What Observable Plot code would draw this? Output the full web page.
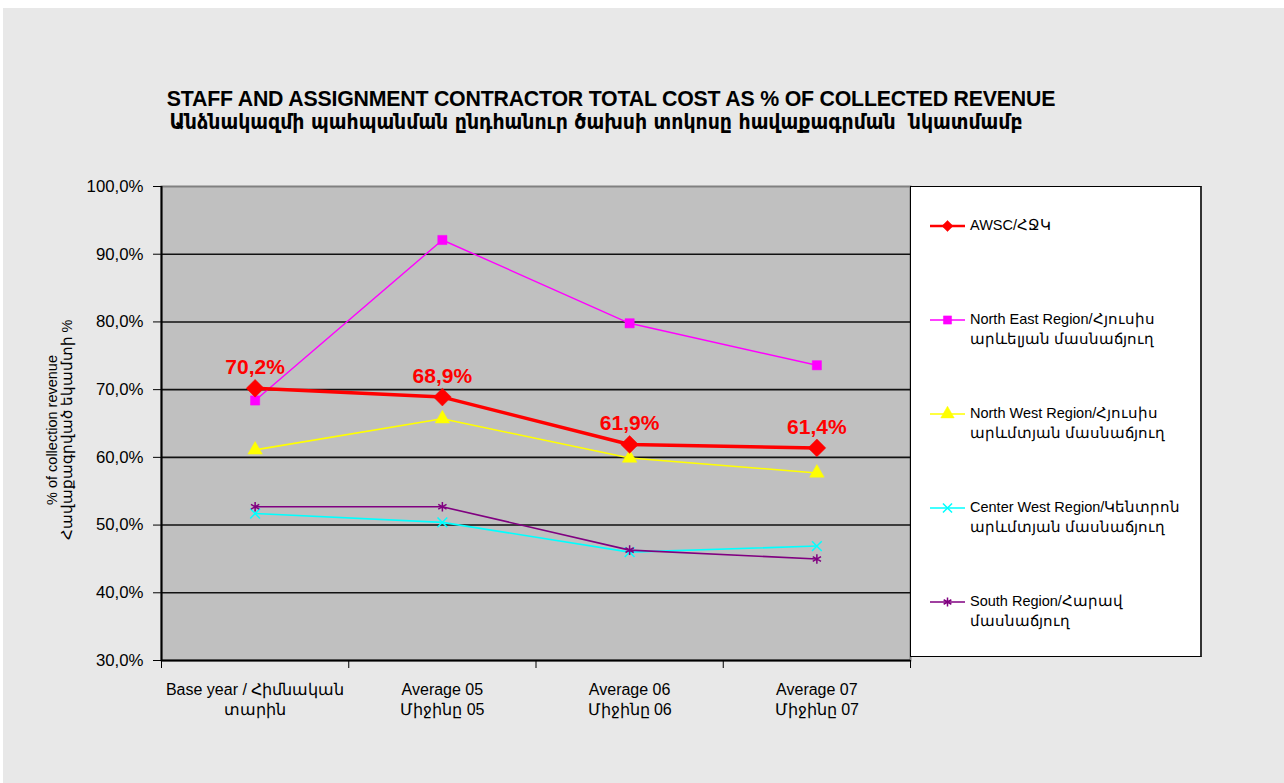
<!DOCTYPE html>
<html><head><meta charset="utf-8">
<script src="https://cdn.jsdelivr.net/npm/d3@7"></script>
<script src="https://cdn.jsdelivr.net/npm/@observablehq/plot@0.6"></script>
<style>
body{margin:0;background:#fff;font-family:"Liberation Sans",Arial,sans-serif;width:1284px;height:783px;overflow:hidden;position:relative;}
#bg{position:absolute;left:3px;top:8px;width:1281px;height:775px;background-color:#e8e8e8;}
#chart{position:absolute;left:0;top:0;}
.title{position:absolute;left:0;width:1222px;text-align:center;font-weight:bold;color:#000;white-space:pre;}
#t1{top:87px;font-size:21.3px;letter-spacing:-0.2px;}
#t2{top:110px;left:-15px;font-size:21px;font-family:"DejaVu Sans Condensed","DejaVu Sans",sans-serif;}
#ylab{position:absolute;left:59px;top:430px;transform:translate(-50%,-50%) rotate(-90deg);text-align:center;font-size:14.5px;line-height:14.5px;white-space:nowrap;}
#legend{position:absolute;left:910px;top:186px;width:289px;height:469px;background:#fff;border:1px solid #000;border-right:2px solid #333;}
.li{position:absolute;left:18px;font-size:14.5px;line-height:19.5px;}
.li svg{position:absolute;left:0;top:1px;}
.li span{position:absolute;left:41px;top:0;white-space:nowrap;}
</style></head>
<body>
<div id="bg"></div>
<div id="chart"></div>
<div class="title" id="t1">STAFF AND ASSIGNMENT CONTRACTOR TOTAL COST AS % OF COLLECTED REVENUE</div>
<div class="title" id="t2">Անձնակազմի պահպանման ընդհանուր ծախսի տոկոսը հավաքագրման  նկատմամբ</div>
<div id="ylab">% of collection revenue<br>Հավաքագրված եկամտի %</div>
<div id="legend"></div>
<script>
const categories = ["Base year / Հիմնական\nտարին", "Average 05\nՄիջինը 05", "Average 06\nՄիջինը 06", "Average 07\nՄիջինը 07"];
const seriesNames = ["AWSC/ՀՋԿ", "North East Region/Հյուսիս\nարևելյան մասնաճյուղ", "North West Region/Հյուսիս\nարևմտյան մասնաճյուղ", "Center West Region/Կենտրոն\nարևմտյան մասնաճյուղ", "South Region/Հարավ\nմասնաճյուղ"];
const awsc = [0.702, 0.689, 0.619, 0.614];
const northEast = [0.684, 0.921, 0.798, 0.736];
const northWest = [0.611, 0.657, 0.599, 0.577];
const centerWest = [0.517, 0.504, 0.460, 0.469];
const south = [0.527, 0.527, 0.463, 0.450];
const yTicks = [0.3, 0.4, 0.5, 0.6, 0.7, 0.8, 0.9, 1.0];

const colors = ["#ff0000", "#ff00ff", "#ffff00", "#00ffff", "#800080"];
const symbols = ["diamond2", "square", "triangle", "times", "asterisk"];
const widths = [3.5, 1.4, 1.6, 1.6, 1.6];
const radii = [8, 5.2, 5.4, 4.5, 4.5];
const legendRadii = [5, 4.6, 5, 4.2, 4.2];
const values = [awsc, northEast, northWest, centerWest, south];

const locale = d3.formatLocale({decimal: ",", thousands: ".", grouping: [3], currency: ["", ""], percent: "%"});
const pct = locale.format(".1%");

const rows = [];
values.forEach((vals, s) => vals.forEach((v, i) => rows.push({s, i, v})));

const marks = [
  Plot.frame({fill: "#c0c0c0", stroke: "#808080", strokeWidth: 2}),
  Plot.ruleY(yTicks.filter(t => t > 0.3 && t < 1), {stroke: "#111", strokeWidth: 1.6}),
];
[1, 2, 3, 4, 0].forEach(s => {
  const d = rows.filter(r => r.s === s);
  marks.push(Plot.line(d, {x: "i", y: "v", stroke: colors[s], strokeWidth: widths[s]}));
  const filled = s < 3;
  marks.push(Plot.dot(d, {x: "i", y: "v", symbol: () => symbols[s], r: radii[s],
    fill: filled ? colors[s] : "none", stroke: colors[s], strokeWidth: filled ? 0.5 : 1.5}));
});
marks.push(Plot.text(rows.filter(r => r.s === 0), {x: "i", y: "v", text: d => pct(d.v), dy: -21,
  fill: "#ff0000", fontSize: 21, fontWeight: "bold", fontFamily: "Liberation Sans Narrow, Arial Narrow, Liberation Sans, Arial"}));
marks.push(Plot.ruleX([-0.5], {stroke: "#000", strokeWidth: 2}));
marks.push(Plot.ruleY([0.3], {stroke: "#000", strokeWidth: 2}));
marks.push(Plot.axisY(yTicks, {tickFormat: pct, tickSize: 8, tickPadding: 10, fontSize: 16.8, label: null, stroke: "#000"}));
marks.push(Plot.axisX([-0.5, 0.5, 1.5, 2.5, 3.5], {tickFormat: () => "", tickSize: 8, label: null, stroke: "#000"}));
marks.push(Plot.axisX([0, 1, 2, 3], {tickFormat: i => categories[i], tickSize: 0, tickPadding: 20, fontSize: 16, label: null, lineHeight: 1.25}));

const chart = Plot.plot({
  width: 1284, height: 783,
  marginLeft: 161, marginRight: 374, marginTop: 186, marginBottom: 123,
  x: {domain: [-0.5, 3.5]},
  y: {domain: [0.3, 1.0]},
  style: {background: "transparent", fontFamily: "Liberation Sans, Arial, sans-serif", color: "#000"},
  marks
});
document.getElementById("chart").appendChild(chart);

const legend = document.getElementById("legend");
const ys = [29, 123, 217, 311, 405];
const symMap = {diamond2: d3.symbolDiamond2, square: d3.symbolSquare, triangle: d3.symbolTriangle, times: d3.symbolTimes, asterisk: d3.symbolAsterisk};
seriesNames.forEach((name, s) => {
  const item = document.createElement("div");
  item.className = "li";
  item.style.top = ys[s] + "px";
  const sym = d3.symbol(symMap[symbols[s]], Math.PI * legendRadii[s] * legendRadii[s])();
  const filled = s < 3;
  item.innerHTML = `<svg width="38" height="18"><line x1="1" x2="36" y1="9" y2="9" stroke="${colors[s]}" stroke-width="${Math.min(widths[s], 2.5)}"/>` +
    `<path transform="translate(18.5,9)" d="${sym}" fill="${filled ? colors[s] : "none"}" stroke="${colors[s]}" stroke-width="${filled ? 0.5 : 1.5}"/></svg>` +
    `<span>${name.replace("\n", "<br>")}</span>`;
  legend.appendChild(item);
});
</script>
</body></html>
